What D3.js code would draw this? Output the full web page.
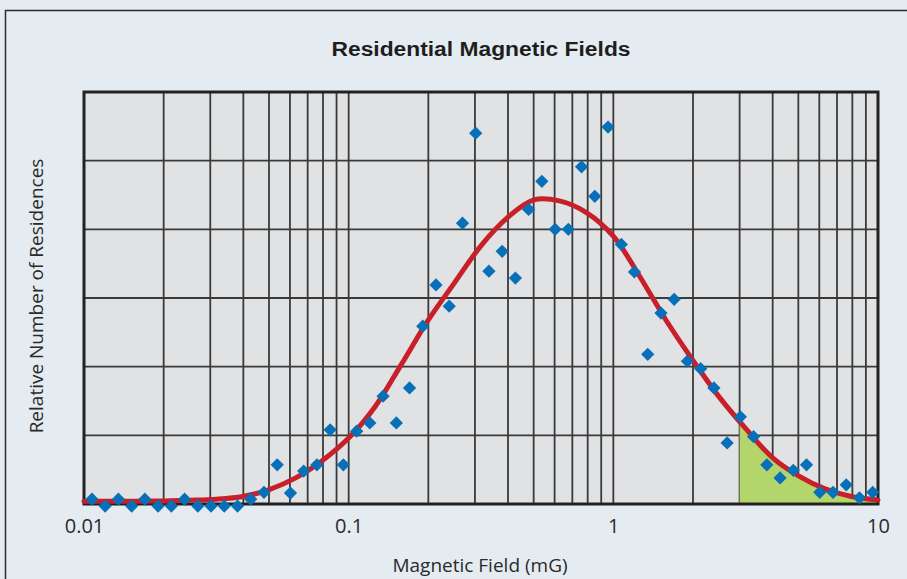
<!DOCTYPE html>
<html><head><meta charset="utf-8">
<script src="https://cdn.jsdelivr.net/npm/d3@7"></script>
<style>
html,body{margin:0;padding:0;background:#e4ecf1;}
svg{display:block;}
</style></head>
<body>
<script>
// ---- data ----
const title = "Residential Magnetic Fields";
const xTitle = "Magnetic Field (mG)";
const yTitle = "Relative Number of Residences";
const xTickValues = [0.01, 0.1, 1, 10];
const xTickLabels = ["0.01", "0.1", "1", "10"];
const yGridValues = [0, 1, 2, 3, 4, 5, 6];

const pointX = [0.01072,0.01202,0.01349,0.01514,0.01698,0.01905,0.02138,0.02399,0.02692,0.0302,
  0.03388,0.03802,0.04266,0.04786,0.0537,0.06026,0.06761,0.07586,0.08511,0.0955,
  0.1072,0.1202,0.1349,0.1514,0.1698,0.1905,0.2138,0.2399,0.2692,0.302,
  0.3388,0.3802,0.4266,0.4786,0.537,0.6026,0.6761,0.7586,0.8511,0.955,
  1.072,1.202,1.349,1.514,1.698,1.905,2.138,2.399,2.692,3.02,
  3.388,3.802,4.266,4.786,5.37,6.026,6.761,7.586,8.511,9.55];
const pointY = [0.07,-0.03,0.07,-0.03,0.07,-0.03,-0.03,0.07,-0.03,-0.03,
  -0.03,-0.03,0.07,0.17,0.57,0.16,0.48,0.57,1.08,0.57,
  1.06,1.18,1.57,1.18,1.69,2.59,3.19,2.88,4.09,5.40,
  3.39,3.68,3.29,4.29,4.70,4.00,4.00,4.91,4.48,5.49,
  3.78,3.38,2.18,2.78,2.98,2.08,1.97,1.69,0.89,1.27,
  0.98,0.57,0.38,0.49,0.57,0.17,0.17,0.28,0.09,0.17];

const curveX = [0.01,0.0126,0.0158,0.02,0.0251,0.0316,0.0398,0.0501,0.0631,0.0794,
  0.1,0.126,0.158,0.2,0.251,0.316,0.398,0.501,0.631,0.794,
  1,1.26,1.58,2,2.51,3.16,3.98,5.01,6.31,7.94,10];
const curveY = [0.04,0.04,0.04,0.045,0.055,0.07,0.11,0.21,0.38,0.63,
  0.96,1.42,2.03,2.68,3.22,3.76,4.17,4.43,4.41,4.24,
  3.90,3.31,2.68,2.09,1.56,1.10,0.68,0.41,0.22,0.11,0.06];
const shadeFrom = 3, shadeTo = 10;

// ---- layout ----
const W = 907, H = 579;
const L = 84, R = 878, T = 92, B = 504;

const svg = d3.select("body").append("svg").attr("width", W).attr("height", H);

svg.append("rect").attr("x", 0).attr("y", 0).attr("width", W).attr("height", H).attr("fill", "#e4ecf1");
svg.append("rect").attr("x", 5.5).attr("y", 10.5).attr("width", 920).attr("height", 620)
  .attr("fill", "none").attr("stroke", "#2b2b2b").attr("stroke-width", 1.5);

const x = d3.scaleLog().domain([0.01, 10]).range([L, R]);
const y = d3.scaleLinear().domain([0, 6]).range([B, T]);

svg.append("text").attr("x", 481).attr("y", 56).attr("text-anchor", "middle")
  .attr("font-family", "'Liberation Sans Narrow', 'Liberation Sans', sans-serif")
  .attr("font-weight", "bold").attr("font-size", 20).attr("fill", "#1e1e1e")
  .attr("textLength", 299).attr("lengthAdjust", "spacingAndGlyphs")
  .text(title);

svg.append("rect").attr("x", L).attr("y", T).attr("width", R - L).attr("height", B - T).attr("fill", "#e1e2e4");

// grid
const grid = svg.append("g");
grid.selectAll("line.v").data(x.ticks()).join("line")
  .attr("x1", d => x(d)).attr("x2", d => x(d)).attr("y1", T).attr("y2", B)
  .attr("stroke", "#3a3a3a").attr("stroke-width", 1.8);
grid.selectAll("line.h").data(yGridValues).join("line")
  .attr("x1", L).attr("x2", R).attr("y1", d => y(d)).attr("y2", d => y(d))
  .attr("stroke", "#3a3a3a").attr("stroke-width", 1.8);

// shaded area
const curveData = curveX.map((v, i) => [v, curveY[i]]);
const smooth = d3.curveCatmullRom.alpha(0.5);
svg.append("clipPath").attr("id", "shade").append("rect")
  .attr("x", x(shadeFrom)).attr("y", T).attr("width", x(shadeTo) - x(shadeFrom)).attr("height", B - T);
svg.append("path").datum(curveData)
  .attr("clip-path", "url(#shade)")
  .attr("fill", "#b4d56c")
  .attr("d", d3.area().x(d => x(d[0])).y0(y(0)).y1(d => y(d[1])).curve(smooth));

// border
svg.append("rect").attr("x", L).attr("y", T).attr("width", R - L).attr("height", B - T)
  .attr("fill", "none").attr("stroke", "#222").attr("stroke-width", 3);

// curve
svg.append("path").datum(curveData)
  .attr("fill", "none").attr("stroke", "#c8202a").attr("stroke-width", 5)
  .attr("stroke-linecap", "round")
  .attr("d", d3.line().x(d => x(d[0])).y(d => y(d[1])).curve(smooth));

// points
const sym = d3.symbol().type(d3.symbolSquare).size(88);
svg.append("g").selectAll("path").data(pointX.map((v, i) => [v, pointY[i]])).join("path")
  .attr("transform", d => `translate(${x(d[0])},${y(d[1])}) rotate(45)`)
  .attr("d", sym).attr("fill", "#0870b8");

// x axis labels
const ax = svg.append("g").attr("transform", `translate(0,${B})`)
  .call(d3.axisBottom(x).tickValues(xTickValues).tickSize(0).tickPadding(15)
    .tickFormat((d, i) => xTickLabels[i]));
ax.select(".domain").remove();
ax.selectAll("text").attr("font-family", "'Open Sans', sans-serif").attr("font-size", 20).attr("fill", "#2a2a2a");

svg.append("text").attr("x", 480).attr("y", 572).attr("text-anchor", "middle")
  .attr("font-family", "'Open Sans', sans-serif").attr("font-size", 19).attr("fill", "#2a2a2a")
  .text(xTitle);

svg.append("text").attr("transform", "translate(43,296) rotate(-90)").attr("text-anchor", "middle")
  .attr("font-family", "'Open Sans', sans-serif").attr("font-size", 19).attr("fill", "#2a2a2a")
  .text(yTitle);
</script>
</body></html>
